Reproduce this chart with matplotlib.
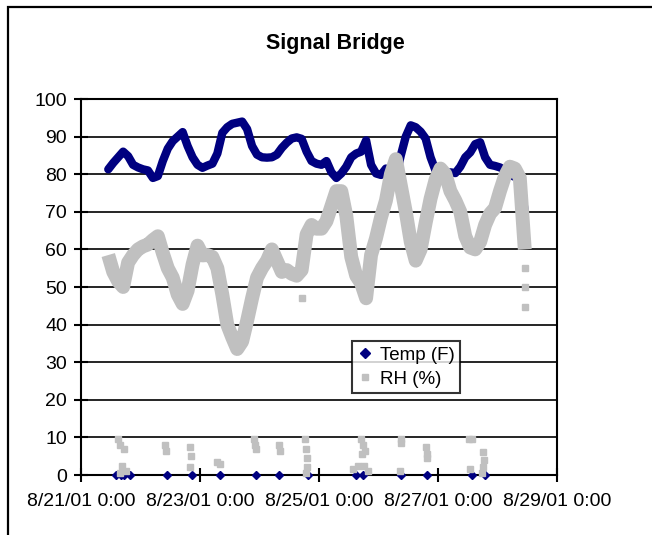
import pandas as pd
import matplotlib
matplotlib.use("Agg")
import matplotlib.pyplot as plt
import matplotlib.dates as mdates
from matplotlib.lines import Line2D
from matplotlib.patches import Rectangle

plt.rcParams['font.family'] = ['Liberation Sans', 'DejaVu Sans']

# logger readings every 2 h, starting 8/21/01 11:00
log_start = pd.Timestamp("2001-08-21 11:00")
read_hours = list(range(0, 169, 2))

temp_f = [81.3, 83, 84.5, 86, 84.8, 82.5, 81.8, 81.3, 81, 79,
          79.5, 83.5, 86.8, 88.8, 90, 91.2, 87.5, 84.5, 82.5, 81.7,
          82.3, 82.8, 85.5, 91, 92.5, 93.4, 93.7, 94, 92, 87.5,
          85.2, 84.5, 84.4, 84.5, 85.2, 87, 88.4, 89.5, 89.8, 89.4,
          86, 83.5, 82.8, 82.5, 83.5, 80.5, 79, 80.2, 82, 84.5,
          85.5, 86, 89, 82.5, 80.2, 79.8, 81.5, 79, 79.3, 85,
          90, 93, 92.5, 91.3, 89.5, 84.5, 81, 80, 80.3, 80.5,
          80.3, 82, 84.5, 85.8, 88, 88.5, 84.5, 82.5, 82.2, 81.8,
          81, 79.8, 79.3, 79, 70]

rh_pct = [58.5, 54, 51.5, 50, 56.5, 58.5, 60, 60.8, 61.3, 62.5,
          63.5, 59, 55, 52.5, 48, 45.5, 49, 56, 61, 58.4,
          58.5, 58, 55, 48, 40, 36.6, 33.5, 35.5, 41, 47,
          52.5, 55, 57, 60, 57, 54, 54.5, 53.5, 53, 54.5,
          64, 66.5, 65.5, 65.5, 67.5, 71.5, 75.5, 75.5, 69, 58,
          53, 51, 47, 58.5, 63, 68.5, 73, 80, 84, 77,
          70, 62, 57, 60, 67, 73.5, 78.5, 81.5, 80, 75.5,
          73, 70, 63.5, 60.5, 60, 62, 66.5, 69.5, 71, 75.5,
          79.5, 82, 81.5, 79, 60]

# sensor dropouts (temperature logged as 0)
temp_drop_hours = [3.2, 5, 6.5, 8.9, 23.6, 33.7, 45.1, 59.7, 69, 80.4,
                   99.9, 102.7, 118.2, 128.7, 146.6, 151.9]
temp_drop_vals = [0] * len(temp_drop_hours)

# stray humidity readings
rh_stray_hours = [4.1, 4.9, 6.5, 5.7, 7.3, 4.9, 22.7, 23.1, 32.9, 33.3,
                  32.9, 43.9, 45.1, 58.9, 59.3, 59.7, 69, 69.4, 79.2, 79.6,
                  80, 80, 79.6, 101.9, 102.7, 103.6, 102.3, 98.7, 100.7, 103.1,
                  104.8, 118.2, 118.2, 117.8, 128.3, 128.7, 128.7, 145.4, 146.6, 145.8,
                  151.1, 151.5, 151.1, 150.7, 78, 168.1, 168.1, 168.1, 168.1]
rh_stray_vals = [9.5, 8, 7, 2.5, 1, 0.5, 8, 6.5, 7.5, 5,
                 2, 3.5, 3, 9.5, 8, 7, 8, 6.5, 9.5, 7,
                 4.5, 2, 0.5, 9.5, 8, 6.5, 5.5, 1.5, 2.5, 2.5,
                 1, 9.5, 8.5, 1, 7.5, 5.5, 4.5, 9.5, 9.5, 1.5,
                 6, 4, 2, 0.5, 47, 66, 55, 50, 44.7]

tick_dates = ["2001-08-21", "2001-08-23", "2001-08-25", "2001-08-27", "2001-08-29"]

NAVY = "#000080"
GREY = "#C0C0C0"


def to_time(hours):
    return log_start + pd.to_timedelta(hours, unit="h")


fig = plt.figure(figsize=(6.52, 5.35), dpi=100)

# chart border (runs off the right and bottom edges)
fig.patches.append(Rectangle((8 / 652, -0.05), 1.0, 1 - 7 / 535 + 0.05,
                             transform=fig.transFigure, fill=False,
                             edgecolor="black", linewidth=1.6))

ax = fig.add_axes([81 / 652, 60 / 535, 476 / 652, 376 / 535])

ax.plot(to_time(read_hours), temp_f, color=NAVY, lw=6,
        solid_capstyle="round", solid_joinstyle="round", zorder=3)
ax.plot(to_time(temp_drop_hours), temp_drop_vals, ls="none", marker="D",
        ms=4, color=NAVY, zorder=3, clip_on=False)

ax.plot(to_time(read_hours), rh_pct, color=GREY, lw=10,
        solid_capstyle="butt", solid_joinstyle="round", zorder=4)
ax.plot(to_time(rh_stray_hours), rh_stray_vals, ls="none", marker="s",
        ms=4, mfc=GREY, mec=GREY, zorder=4, clip_on=False)

ax.set_ylim(0, 100)
ax.set_yticks(range(0, 101, 10))
ax.set_xlim(pd.Timestamp(tick_dates[0]), pd.Timestamp(tick_dates[-1]))
ax.set_xticks(pd.to_datetime(tick_dates))


def date_label(x, pos):
    d = mdates.num2date(x)
    return f"{d.month}/{d.day}/{d:%y} {d.hour}:{d:%M}"


ax.xaxis.set_major_formatter(plt.FuncFormatter(date_label))

ax.grid(axis="y", color="black", lw=1.2)
ax.set_axisbelow(True)
for s in ax.spines.values():
    s.set_linewidth(1.5)
ax.tick_params(axis="both", direction="inout", length=10, width=1.5,
               labelsize=14, colors="black")
ax.tick_params(axis="x", pad=8)
ax.tick_params(axis="y", pad=5)

fig.text(335 / 652, 1 - 44 / 535, "Signal Bridge", ha="center", va="center",
         fontsize=15.5, fontweight="bold")

handles = [
    Line2D([0], [0], ls="none", marker="D", ms=5, color=NAVY, label="Temp (F)"),
    Line2D([0], [0], ls="none", marker="s", ms=4, color=GREY, label="RH (%)"),
]
leg = ax.legend(handles=handles, loc="upper left", bbox_to_anchor=(0.569, 0.356),
                fontsize=13.5, frameon=True, fancybox=False, handlelength=0.8,
                handletextpad=0.4, borderpad=0.3, labelspacing=0.35,
                borderaxespad=0)
leg.get_frame().set_edgecolor("black")
leg.get_frame().set_linewidth(1.5)
leg.set_zorder(10)

fig.savefig("out.png", dpi=100, facecolor="white")
